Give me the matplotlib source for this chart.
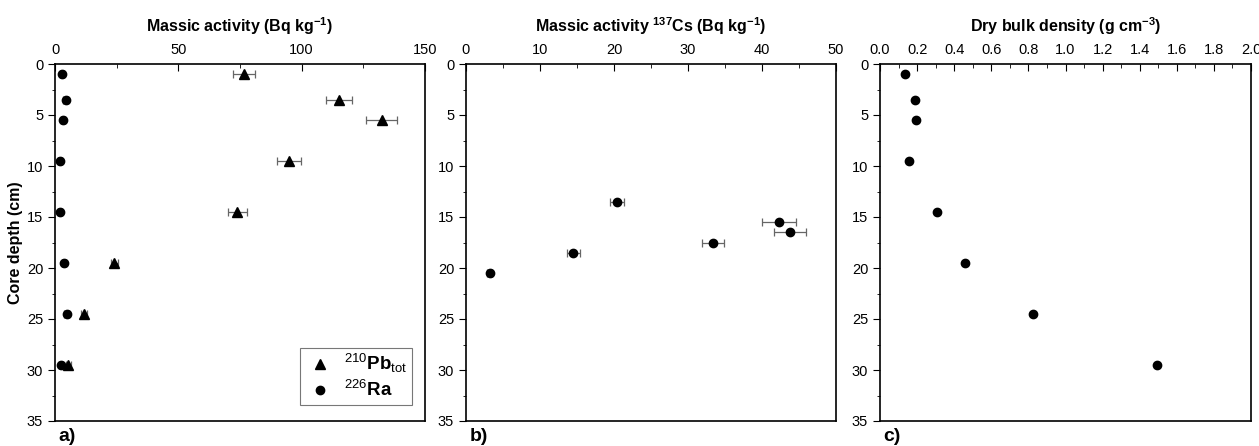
import numpy as np
import matplotlib
matplotlib.use("Agg")
import matplotlib.pyplot as plt
from matplotlib.ticker import MultipleLocator

plt.rcParams['font.family'] = ['Liberation Sans', 'DejaVu Sans']
plt.rcParams['mathtext.fontset'] = 'custom'
plt.rcParams['mathtext.rm'] = 'Liberation Sans'
plt.rcParams['mathtext.bf'] = 'Liberation Sans:bold'
plt.rcParams['mathtext.it'] = 'Liberation Sans:italic'

# --- data ---------------------------------------------------------------
depth = [1.0, 3.5, 5.5, 9.5, 14.5, 19.5, 24.5, 29.5]

pb_tot = [76.6, 115.3, 132.4, 95.0, 73.9, 24.0, 11.8, 5.4]
pb_err = [4.3, 5.3, 6.3, 4.9, 3.8, 1.5, 1.2, 1.0]
ra226 = [2.7, 4.3, 3.4, 2.0, 2.0, 3.8, 4.7, 2.4]
ra_err = [0.8, 0.9, 0.8, 0.8, 0.8, 0.8, 0.9, 0.8]

cs_depth = [13.5, 15.5, 16.5, 17.5, 18.5, 20.5]
cs137 = [20.4, 42.25, 43.8, 33.4, 14.5, 3.2]
cs_err = [0.95, 2.3, 2.2, 1.45, 0.9, 0.3]

dbd = [0.137, 0.189, 0.192, 0.158, 0.308, 0.46, 0.824, 1.493]

W, H = 1259, 446
fig = plt.figure(figsize=(W / 100, H / 100), dpi=100)


def make_axes(left, right):
    ax = fig.add_axes([left / W, 1 - 421 / H, (right - left) / W, (421 - 64) / H])
    ax.set_ylim(35, 0)
    ax.xaxis.tick_top()
    ax.xaxis.set_label_position('top')
    ax.yaxis.set_major_locator(MultipleLocator(5))
    ax.yaxis.set_minor_locator(MultipleLocator(2.5))
    ax.tick_params(axis='x', which='both', direction='in', top=True, bottom=False,
                   labelsize=10.5, pad=5)
    ax.tick_params(axis='x', which='major', length=5)
    ax.tick_params(axis='x', which='minor', length=3)
    ax.tick_params(axis='y', which='both', direction='out', left=True, right=False,
                   labelsize=10.5)
    ax.tick_params(axis='y', which='major', length=5)
    ax.tick_params(axis='y', which='minor', length=2.5)
    for s in ax.spines.values():
        s.set_linewidth(1.2)
    return ax


err_kw = dict(ecolor='#666666', elinewidth=0.9, capsize=3, capthick=0.9, linestyle='none')

# a) 210Pb and 226Ra
ax1 = make_axes(55, 425)
ax1.set_xlim(0, 150)
ax1.xaxis.set_major_locator(MultipleLocator(50))
ax1.xaxis.set_minor_locator(MultipleLocator(25))
ax1.errorbar(pb_tot, depth, xerr=pb_err, fmt='^', color='black', markersize=6.5,
             label=r'$^{210}\mathbf{Pb}_{\mathrm{tot}}$', **err_kw)
ax1.errorbar(ra226, depth, xerr=ra_err, fmt='o', color='black', markersize=6,
             label=r'$^{226}\mathbf{Ra}$', **err_kw)
ax1.set_xlabel(r'Massic activity (Bq kg$^{\mathbf{-1}}$)', fontsize=11.5, fontweight='bold',
               labelpad=8)
ax1.set_ylabel('Core depth (cm)', fontsize=11.5, fontweight='bold', labelpad=3)
handles, labels = ax1.get_legend_handles_labels()
handles = [h[0] for h in handles]
leg = ax1.legend(handles, labels, loc='lower right', bbox_to_anchor=(0.965, 0.045),
                 borderaxespad=0, fontsize=13.5, frameon=True, fancybox=False,
                 edgecolor='#555555', handletextpad=0.5, borderpad=0.25,
                 labelspacing=0.25, handlelength=1.6)
leg.get_frame().set_linewidth(0.8)
ax1.text(0.01, -0.02, 'a)', transform=ax1.transAxes, fontsize=14, fontweight='bold',
         va='top', ha='left')

# b) 137Cs
ax2 = make_axes(466, 836)
ax2.set_xlim(0, 50)
ax2.xaxis.set_major_locator(MultipleLocator(10))
ax2.xaxis.set_minor_locator(MultipleLocator(5))
ax2.errorbar(cs137, cs_depth, xerr=cs_err, fmt='o', color='black', markersize=6, **err_kw)
ax2.set_xlabel(r'Massic activity $^{\mathbf{137}}$Cs (Bq kg$^{\mathbf{-1}}$)', fontsize=11.5,
               fontweight='bold', labelpad=8)
ax2.text(0.01, -0.02, 'b)', transform=ax2.transAxes, fontsize=14, fontweight='bold',
         va='top', ha='left')

# c) dry bulk density
ax3 = make_axes(880, 1251)
ax3.set_xlim(0, 2.0)
ax3.xaxis.set_major_locator(MultipleLocator(0.2))
ax3.xaxis.set_minor_locator(MultipleLocator(0.1))
ax3.xaxis.set_major_formatter(matplotlib.ticker.FormatStrFormatter('%.1f'))
ax3.plot(dbd, depth, 'o', color='black', markersize=6)
ax3.set_xlabel(r'Dry bulk density (g cm$^{\mathbf{-3}}$)', fontsize=11.5, fontweight='bold',
               labelpad=8)
ax3.text(0.01, -0.02, 'c)', transform=ax3.transAxes, fontsize=14, fontweight='bold',
         va='top', ha='left')

fig.savefig('out.png', dpi=100)
